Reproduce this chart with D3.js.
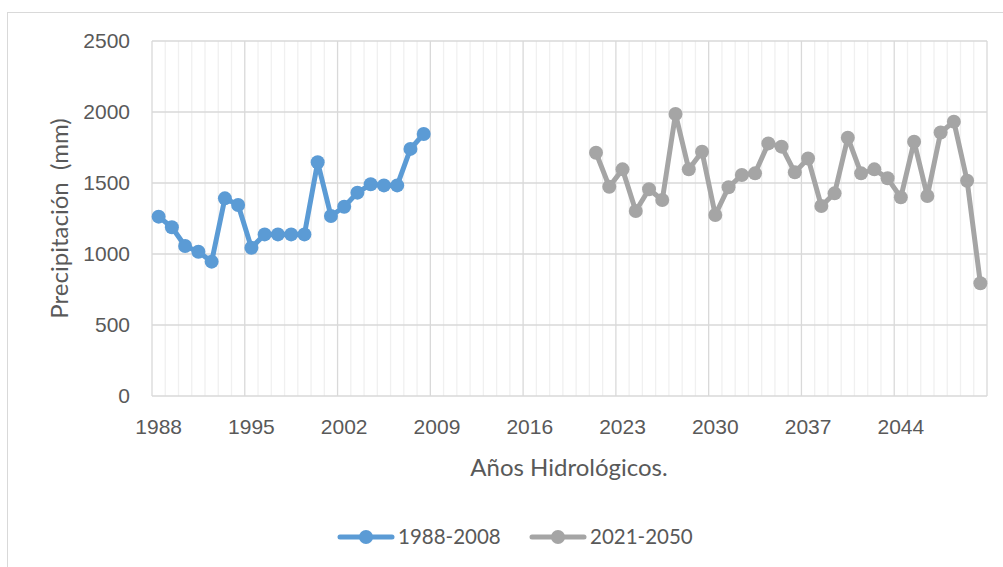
<!DOCTYPE html>
<html>
<head>
<meta charset="utf-8">
<script src="https://cdnjs.cloudflare.com/ajax/libs/d3/7.8.5/d3.min.js"></script>
<style>
  body { margin: 0; background: #fff; }
  svg { font-family: Lato, "Open Sans", sans-serif; }
  .axis text { fill: #595959; font-size: 21px; }
  .axis path, .axis line { display: none; }
</style>
</head>
<body>
<svg id="chart" width="1003" height="567"></svg>
<script>
// categories 1988..2050
const years = d3.range(1988, 2051);
const tick_years = [1988, 1995, 2002, 2009, 2016, 2023, 2030, 2037, 2044];
const y_ticks = [0, 500, 1000, 1500, 2000, 2500];

const years_obs = d3.range(1988, 2009);
const values_obs = [1263, 1188, 1056, 1016, 946, 1392, 1345, 1044, 1138, 1138, 1138,
    1138, 1646, 1268, 1333, 1432, 1491, 1483, 1483, 1740, 1845];

const years_fut = d3.range(2021, 2051);
const values_fut = [1713, 1474, 1596, 1303, 1456, 1380, 1986, 1596, 1720, 1275,
    1470, 1556, 1568, 1779, 1756, 1575, 1673, 1338, 1427, 1819,
    1568, 1596, 1533, 1399, 1791, 1408, 1856, 1932, 1516, 794];

const series = [
    {name: "1988-2008", color: "#5b9bd5", data: years_obs.map((y, i) => ({year: y, value: values_obs[i]}))},
    {name: "2021-2050", color: "#a5a5a5", data: years_fut.map((y, i) => ({year: y, value: values_fut[i]}))}
];

const margin = {top: 41, left: 152, right: 16, bottom: 171};
const width = 1003 - margin.left - margin.right,
    height = 567 - margin.top - margin.bottom;

const svg = d3.select("#chart");

// outer border
svg.append("rect")
    .attr("x", 7.5).attr("y", 12.5)
    .attr("width", 1003).attr("height", 567)
    .attr("fill", "none").attr("stroke", "#d9d9d9");

const g = svg.append("g")
    .attr("transform", "translate(" + margin.left + "," + margin.top + ")");

const xScale = d3.scaleBand().domain(years).range([0, width]).padding(0);
const yScale = d3.scaleLinear().domain([0, 2500]).range([height, 0]);

// minor vertical grid (category boundaries)
g.append("g").selectAll("line")
    .data(years.filter(y => (y - 1988) % 7 !== 0).concat([2051]))
    .enter().append("line")
    .attr("x1", d => d === 2051 ? width : xScale(d))
    .attr("x2", d => d === 2051 ? width : xScale(d))
    .attr("y1", 0).attr("y2", height)
    .attr("stroke", d => d === 2051 ? "#d9d9d9" : "#f0f0f0")
    .attr("stroke-width", 1.3);

// major vertical grid
g.append("g").selectAll("line")
    .data(tick_years)
    .enter().append("line")
    .attr("x1", d => xScale(d)).attr("x2", d => xScale(d))
    .attr("y1", 0).attr("y2", height)
    .attr("stroke", "#d9d9d9").attr("stroke-width", 1.3);

// horizontal grid
g.append("g").selectAll("line")
    .data(y_ticks)
    .enter().append("line")
    .attr("x1", 0).attr("x2", width)
    .attr("y1", d => yScale(d)).attr("y2", d => yScale(d))
    .attr("stroke", "#d9d9d9").attr("stroke-width", 1.3);

// axes
g.append("g")
    .attr("class", "axis")
    .attr("transform", "translate(0," + height + ")")
    .call(d3.axisBottom(xScale).tickValues(tick_years).tickSize(0).tickPadding(23));

g.append("g")
    .attr("class", "axis")
    .call(d3.axisLeft(yScale).tickValues(y_ticks).tickFormat(d3.format("d")).tickSize(0).tickPadding(22));

// axis titles
svg.append("text")
    .attr("x", 569).attr("y", 476)
    .attr("text-anchor", "middle")
    .attr("fill", "#595959").attr("font-size", 24)
    .text("Años Hidrológicos.");

svg.append("text")
    .attr("transform", "translate(68," + (margin.top + height / 2) + ") rotate(-90)")
    .attr("text-anchor", "middle")
    .attr("fill", "#595959").attr("font-size", 24)
    .attr("xml:space", "preserve")
    .style("white-space", "pre")
    .text("Precipitación  (mm)");

// lines + markers
const line = d3.line()
    .x(d => xScale(d.year) + xScale.bandwidth() / 2)
    .y(d => yScale(d.value));

series.forEach(function (s) {
    g.append("path")
        .datum(s.data)
        .attr("fill", "none")
        .attr("stroke", s.color)
        .attr("stroke-width", 5)
        .attr("stroke-linejoin", "round")
        .attr("d", line);

    g.append("g").selectAll("circle")
        .data(s.data)
        .enter().append("circle")
        .attr("cx", d => xScale(d.year) + xScale.bandwidth() / 2)
        .attr("cy", d => yScale(d.value))
        .attr("r", 7)
        .attr("fill", s.color);
});

// legend
const legend = svg.append("g").attr("transform", "translate(338,537)");
series.forEach(function (s, i) {
    const lg = legend.append("g").attr("transform", "translate(" + (i * 192) + ",0)");
    lg.append("line")
        .attr("x1", 2).attr("x2", 54)
        .attr("stroke", s.color).attr("stroke-width", 5).attr("stroke-linecap", "round");
    lg.append("circle").attr("cx", 28).attr("r", 7).attr("fill", s.color);
    lg.append("text")
        .attr("x", 60).attr("y", 7)
        .attr("fill", "#595959").attr("font-size", 20.5)
        .text(s.name);
});
</script>
</body>
</html>
